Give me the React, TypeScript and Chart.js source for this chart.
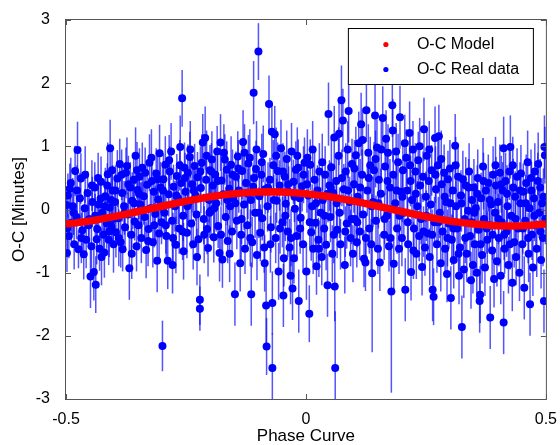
import React, { useEffect, useRef } from 'react';
import { Chart, registerables } from 'chart.js';

Chart.register(...registerables);

const FONT = '"Liberation Sans", Arial, Helvetica, sans-serif';

// Model curve
const modelPhase = [
  -0.5, -0.475, -0.45, -0.425, -0.4, -0.375, -0.35, -0.325, -0.3, -0.275, -0.25, -0.225, -0.2, -0.175,
  -0.15, -0.125, -0.1, -0.075, -0.05, -0.025, 0, 0.025, 0.05, 0.075, 0.1, 0.125, 0.15, 0.175, 0.2,
  0.225, 0.25, 0.275, 0.3, 0.325, 0.35, 0.375, 0.4, 0.425, 0.45, 0.475, 0.5,
];
const modelOC = [
  -0.231, -0.208, -0.181, -0.149, -0.113, -0.073, -0.032, 0.01, 0.052, 0.093, 0.133, 0.169, 0.201, 0.228,
  0.251, 0.267, 0.277, 0.28, 0.277, 0.267, 0.251, 0.228, 0.201, 0.169, 0.133, 0.093, 0.052, 0.01, -0.032,
  -0.073, -0.113, -0.149, -0.181, -0.208, -0.231, -0.247, -0.257, -0.26, -0.257, -0.247, -0.231,
];

// Observed O-C points
const phase = [
  -0.499, -0.498, -0.496, -0.494, -0.492, -0.489, -0.486, -0.483, -0.481, -0.478, -0.476, -0.474, -0.471, -0.469, -0.466, -0.463, -0.461, -0.458, -0.455, -0.452, -0.449, -0.447, -0.445, -0.442,
  -0.44, -0.438, -0.436, -0.435, -0.432, -0.43, -0.428, -0.427, -0.425, -0.422, -0.42, -0.418, -0.415, -0.413, -0.411, -0.409, -0.408, -0.405, -0.404, -0.403, -0.401,
  -0.398, -0.396, -0.393, -0.391, -0.388, -0.386, -0.383, -0.382, -0.379, -0.377, -0.375, -0.373, -0.371, -0.368, -0.366, -0.364, -0.362, -0.359, -0.357, -0.355, -0.353, -0.351,
  -0.349, -0.347, -0.345, -0.343, -0.341, -0.338, -0.336, -0.333, -0.331, -0.328, -0.326, -0.324, -0.321, -0.319, -0.317, -0.314, -0.312, -0.31, -0.308, -0.306, -0.305, -0.303, -0.301,
  -0.299, -0.297, -0.295, -0.293, -0.291, -0.288, -0.286, -0.284, -0.281, -0.279, -0.278, -0.276, -0.273, -0.271, -0.269, -0.266, -0.264, -0.262, -0.26, -0.258, -0.256, -0.255, -0.253, -0.251,
  -0.248, -0.246, -0.244, -0.242, -0.239, -0.237, -0.235, -0.232, -0.23, -0.228, -0.226, -0.224, -0.221, -0.221, -0.219, -0.217, -0.215, -0.213, -0.21, -0.208, -0.206, -0.204, -0.202, -0.2,
  -0.198, -0.196, -0.194, -0.192, -0.189, -0.187, -0.185, -0.183, -0.18, -0.178, -0.176, -0.174, -0.172, -0.169, -0.167, -0.165, -0.163, -0.16, -0.158, -0.156, -0.154, -0.152,
  -0.148, -0.146, -0.144, -0.142, -0.14, -0.137, -0.135, -0.133, -0.131, -0.129, -0.127, -0.125, -0.122, -0.12, -0.117, -0.115, -0.114, -0.112, -0.11, -0.109, -0.106, -0.104, -0.102,
  -0.099, -0.097, -0.095, -0.093, -0.091, -0.089, -0.087, -0.085, -0.083, -0.082, -0.08, -0.077, -0.075, -0.073, -0.071, -0.07, -0.07, -0.068, -0.065, -0.063, -0.061, -0.059, -0.057, -0.055, -0.052,
  -0.049, -0.047, -0.046, -0.044, -0.042, -0.04, -0.038, -0.036, -0.034, -0.032, -0.03, -0.028, -0.026, -0.025, -0.023, -0.021, -0.019, -0.016, -0.015, -0.013, -0.011, -0.008, -0.006, -0.003,
  0.001, 0.003, 0.005, 0.007, 0.009, 0.011, 0.013, 0.015, 0.018, 0.02, 0.022, 0.024, 0.026, 0.028, 0.031, 0.033, 0.035, 0.038, 0.04, 0.042, 0.045, 0.047, 0.049,
  0.051, 0.053, 0.055, 0.057, 0.059, 0.06, 0.061, 0.063, 0.065, 0.068, 0.07, 0.072, 0.074, 0.077, 0.079, 0.081, 0.083, 0.085, 0.087, 0.089, 0.091, 0.093, 0.096, 0.098,
  0.1, 0.102, 0.104, 0.106, 0.108, 0.11, 0.112, 0.115, 0.117, 0.119, 0.121, 0.124, 0.126, 0.128, 0.13, 0.132, 0.134, 0.136, 0.138, 0.14, 0.142, 0.144, 0.146, 0.148,
  0.15, 0.152, 0.154, 0.156, 0.16, 0.163, 0.165, 0.167, 0.169, 0.171, 0.173, 0.175, 0.178, 0.18, 0.182, 0.183, 0.186, 0.188, 0.19, 0.192, 0.194, 0.196, 0.198,
  0.2, 0.202, 0.204, 0.207, 0.209, 0.211, 0.213, 0.216, 0.218, 0.219, 0.221, 0.223, 0.225, 0.228, 0.23, 0.232, 0.234, 0.236, 0.238, 0.24, 0.242, 0.244, 0.246, 0.248,
  0.25, 0.252, 0.254, 0.256, 0.258, 0.26, 0.262, 0.264, 0.266, 0.268, 0.269, 0.271, 0.273, 0.275, 0.277, 0.279, 0.281, 0.283, 0.285, 0.288, 0.29, 0.292, 0.294, 0.296, 0.298,
  0.3, 0.302, 0.304, 0.306, 0.308, 0.311, 0.313, 0.315, 0.317, 0.319, 0.321, 0.323, 0.325, 0.327, 0.329, 0.331, 0.333, 0.335, 0.338, 0.34, 0.342, 0.344, 0.346, 0.348,
  0.35, 0.352, 0.354, 0.356, 0.358, 0.36, 0.362, 0.363, 0.365, 0.367, 0.369, 0.371, 0.373, 0.375, 0.378, 0.38, 0.382, 0.384, 0.386, 0.388, 0.39, 0.392, 0.394, 0.396, 0.398,
  0.4, 0.402, 0.404, 0.406, 0.408, 0.41, 0.412, 0.412, 0.414, 0.416, 0.418, 0.42, 0.422, 0.424, 0.426, 0.428, 0.43, 0.432, 0.434, 0.436, 0.438, 0.44, 0.442, 0.445, 0.447, 0.448,
  0.451, 0.453, 0.455, 0.457, 0.459, 0.462, 0.464, 0.466, 0.467, 0.469, 0.471, 0.473, 0.475, 0.477, 0.479, 0.481, 0.484, 0.486, 0.488, 0.49, 0.492, 0.494, 0.496, 0.497, 0.498, 0.499,
  -0.497, -0.49, -0.484, -0.477, -0.468, -0.46, -0.453, -0.446,
  -0.439, -0.433, -0.426, -0.419, -0.414, -0.41, -0.406, -0.402,
  -0.397, -0.39, -0.384, -0.378, -0.37, -0.363, -0.358, -0.352,
  -0.348, -0.342, -0.335, -0.329, -0.322, -0.316, -0.309, -0.302,
  -0.298, -0.292, -0.285, -0.277, -0.27, -0.263, -0.257, -0.252,
  -0.247, -0.241, -0.234, -0.227, -0.22, -0.212, -0.207, -0.201,
  -0.197, -0.191, -0.184, -0.177, -0.171, -0.164, -0.159, -0.153,
  -0.147, -0.141, -0.134, -0.128, -0.121, -0.116, -0.108, -0.103,
  -0.098, -0.092, -0.086, -0.079, -0.074, -0.067, -0.062, -0.054,
  -0.048, -0.043, -0.037, -0.031, -0.024, -0.018, -0.012, -0.005,
  0.002, 0.008, 0.014, 0.021, 0.027, 0.034, 0.039, 0.046,
  0.052, 0.058, 0.064, 0.069, 0.075, 0.082, 0.088, 0.095,
  0.101, 0.107, 0.113, 0.118, 0.125, 0.131, 0.137, 0.145,
  0.151, 0.157, 0.164, 0.17, 0.176, 0.181, 0.189, 0.195,
  0.201, 0.206, 0.212, 0.217, 0.224, 0.229, 0.237, 0.245,
  0.251, 0.257, 0.263, 0.27, 0.276, 0.282, 0.289, 0.295,
  0.301, 0.307, 0.312, 0.318, 0.324, 0.332, 0.339, 0.345,
  0.351, 0.357, 0.364, 0.37, 0.377, 0.383, 0.389, 0.395,
  0.401, 0.407, 0.413, 0.419, 0.425, 0.431, 0.437, 0.446,
  0.452, 0.458, 0.463, 0.47, 0.476, 0.483, 0.489, 0.495,
];

const oc = [
  0.07, -0.69, 0.22, -0.42, 0.33, -0.21, 0.05, -0.55, 0.61, -0.12, 0.94, -0.63, 0.18, 0.49, -0.33, -0.71, 0.02, -0.48, 0.26, -0.15, -1.06, -0.58, 0.12, -0.99,
  0.35, -1.19, -0.47, -0.31, 0.08, -0.62, 0.17, 0.44, -0.05, -0.4, -0.68, 0.21, -0.22, 0.56, -0.48, 0.03, 0.97, -0.27, 0.62, 0.3, -0.55,
  0.12, -0.36, 0.49, -0.14, 0.72, -0.52, 0.26, -0.63, 0.05, -0.28, 0.58, 0.69, -0.08, -0.93, 0.35, -0.4, 0.14, 0.47, -0.19, 0.85, -0.58, 0.31,
  -0.25, 0.52, 0.08, -0.45, 0.66, 0.21, -0.12, -0.64, 0.39, -0.31, 0.74, 0.02, 0.45, -0.52, 0.28, -0.07, 0.57, -0.81, 0.16, -0.38, 0.89, 0.35, -0.2,
  -2.16, 0.48, -0.05, 0.71, -0.42, -0.81, 0.24, 0.6, 0.92, -0.18, -0.88, 0.36, 0.05, -0.56, 0.53, 0.17, -0.3, 0.99, 0.42, 1.76, -0.1, -0.66, 0.66, 0.28,
  -0.37, 0.58, 0.12, 0.83, -0.22, 0.4, -0.55, 0.69, 0.22, -0.08, 0.51, -0.47, -1.43, -1.57, 0.34, 0.74, 1.06, -0.15, 1.13, 0.47, -0.31, -0.61, 0.15, 0.62,
  -0.02, 0.79, 0.38, -0.44, 0.55, 0.1, 0.92, -0.26, -0.69, 1.06, 0.46, -0.79, 0.24, 0.79, -0.12, 0.63, -0.5, 0.33, 0.05, 0.71, -0.35, 0.18,
  -1.34, 0.52, -0.18, 0.84, 0.3, -0.85, -0.4, 0.61, 1.07, 0.08, -0.62, 0.42, -0.25, 0.73, 0.82, 0.15, -1.34, -0.52, 0.36, 1.85, -0.05, 0.64, -0.72,
  2.5, 0.21, -0.37, 0.55, -0.14, 0.88, -0.6, 0.32, -1.52, -2.17, 0.05, 1.67, 0.47, -0.28, 1.23, -1.48, -2.51, 0.7, 1.19, -0.45, 0.14, 0.61, -0.98, 0.38, 0.97,
  -0.2, -1.36, -0.77, 0.52, 0.09, 0.8, -0.35, 0.28, -0.6, -1.05, 0.92, -1.25, 0.44, -0.77, 0.01, 0.63, -0.42, 0.66, -1.45, 0.18, -0.13, 0.37, -0.55, 0.74,
  -0.98, 0.82, 0.22, -1.65, 0.71, -0.36, 0.05, -0.62, 0.47, -0.21, -0.9, 0.3, -0.48, 0.6, -0.05, -0.75, 0.15, -0.3, 0.55, -0.56, -1.2, 1.51, 0.38,
  -0.12, 0.67, -0.7, 0.26, 1.14, -1.22, -2.51, 0.45, -0.32, 0.85, -0.05, -0.55, 1.73, 1.41, 0.32, -0.88, 0.6, -0.22, 0.95, 1.56, 0.12, -0.45, 0.72, -0.7,
  0.4, -0.15, 0.86, -0.52, 0.2, 1.05, -0.35, 1.35, 0.55, -0.08, -0.78, -0.84, 1.57, 0.3, 0.9, -0.3, 0.7, -0.55, -1.01, 0.12, 0.62, 1.49, -0.18, 0.98,
  -0.62, 0.47, -0.84, 0.25, 1.45, -0.4, 0.68, 1.12, -0.1, 0.9, -0.58, 0.35, -1.3, 1.65, 0.55, -0.86, 0.1, 0.92, -0.3, 0.75, -0.62, 1.46, 0.28,
  -0.45, 0.62, -0.05, -1.27, 0.82, 0.3, -0.55, 1.21, 0.45, -0.99, 0.15, 0.95, -0.3, 0.6, -0.7, 0.05, 0.78, -0.42, 0.38, -0.15, -0.91, 0.52, 1.27, -0.6,
  0.2, 0.85, -0.38, 0.45, -0.75, 0.08, 0.62, -1.27, -1.38, -0.2, 1.13, 0.32, -0.55, 0.7, 1.16, -0.05, -0.85, 0.4, -0.35, 0.58, -0.62, 0.12, -1.02, 0.48, -0.22,
  0.65, -1.4, -0.48, 0.3, -0.8, 1.01, 0.05, -0.3, 0.52, -1.05, -0.6, 0.22, -1.86, 0.48, -0.95, -0.15, 0.38, -0.7, -0.02, 0.6, -0.42, -1.12, 0.15, -0.88,
  0.35, -0.55, 0.02, -1.0, 0.5, -0.32, -1.45, -1.35, 0.18, -0.72, 0.68, -0.15, -0.92, 0.3, -0.48, 0.42, -0.25, -1.71, 0.08, -0.65, 0.55, -1.1, -0.05, 0.38, -0.82,
  0.12, -0.45, 0.58, -1.05, -0.2, 0.3, 0.97, -1.79, -0.62, 0.45, -0.35, 0.05, -0.88, 0.6, 0.99, -0.1, -1.16, 0.35, -0.52, 0.2, -0.75, 0.52, -0.3, -1.0, 0.1, 0.57,
  -0.55, 0.28, -1.24, -0.18, 0.42, 0.75, -0.7, 0.02, -1.5, 0.5, -0.4, -0.92, 0.18, 0.6, -0.25, -0.62, 0.72, -0.05, 0.35, -0.8, 0.1, -0.45, -1.45, 0.99, 0.86, -0.15,
  -0.3, 0.42, -0.05, 0.3, -0.45, 0.55, -0.25, 0.38,
  -0.1, 0.5, -0.75, 0.05, 0.38, -0.35, 0.15, -0.15,
  0.3, -0.45, 0.55, -0.05, 0.4, -0.7, 0.1, 0.62,
  0.25, -0.02, 0.58, -0.5, 0.82, -0.25, 0.48, 0.05,
  0.3, -0.25, 0.78, -0.45, 0.22, 0.7, -0.35, 0.5,
  0.05, 0.95, 0.3, -0.75, 0.6, -0.4, 0.85, -0.05,
  0.6, 0.02, 0.45, -0.4, 0.9, 0.15, -0.7, 0.55,
  0.1, 0.65, -0.15, 0.9, 0.25, -0.45, 0.5, 0.95,
  -0.05, 0.75, -0.85, 0.35, -0.55, 0.15, 0.85, -0.3,
  0.6, -0.1, 0.4, -0.45, 0.2, 0.85, -0.3, 0.55,
  0.4, -0.2, 0.95, 0.1, -0.62, 0.75, -0.1, 0.25,
  0.35, -0.4, 0.1, 1.2, 0.5, -0.35, 0.3, -0.15,
  0.65, -0.2, 0.35, 1.1, -0.45, 0.5, 0.05, 0.8,
  0.1, 0.95, -0.15, 0.45, -0.45, 1.25, 0.3, -0.1,
  0.2, 1.05, -0.2, 0.7, -0.65, 0.25, 1.0, -0.35,
  -0.1, 0.95, -0.4, 0.55, -0.2, 0.8, 0.2, -0.45,
  0.1, -0.3, 0.7, -0.7, 0.1, -0.45, 0.35, -0.2,
  -0.05, 0.25, -0.55, 0.45, -0.3, 0.15, -0.4, 0.7,
  -0.15, 0.4, -0.4, 0.25, -0.55, 0.7, -0.15, 0.3,
  -0.3, 0.1, -0.45, 0.3, -0.1, 0.45, -0.35, 0.2,
];

const ocErr = [
  0.3, 0.3, 0.35, 0.35, 0.4, 0.3, 0.45, 0.4, 0.4, 0.35, 0.45, 0.3, 0.4, 0.4, 0.35, 0.4, 0.3, 0.45, 0.35, 0.4, 0.5, 0.35, 0.4, 0.45,
  0.4, 0.45, 0.4, 0.35, 0.45, 0.35, 0.3, 0.4, 0.3, 0.35, 0.4, 0.45, 0.4, 0.5, 0.4, 0.35, 0.45, 0.3, 0.35, 0.4, 0.45,
  0.35, 0.4, 0.45, 0.3, 0.4, 0.4, 0.45, 0.35, 0.4, 0.35, 0.4, 0.45, 0.35, 0.5, 0.4, 0.35, 0.45, 0.4, 0.3, 0.45, 0.4, 0.35,
  0.4, 0.45, 0.35, 0.4, 0.4, 0.45, 0.35, 0.45, 0.4, 0.35, 0.45, 0.3, 0.4, 0.4, 0.35, 0.45, 0.4, 0.5, 0.35, 0.4, 0.45, 0.4, 0.35,
  0.4, 0.4, 0.35, 0.45, 0.4, 0.45, 0.35, 0.4, 0.45, 0.4, 0.45, 0.35, 0.4, 0.45, 0.35, 0.4, 0.4, 0.5, 0.35, 0.45, 0.4, 0.45, 0.4, 0.35,
  0.4, 0.45, 0.35, 0.4, 0.4, 0.45, 0.4, 0.35, 0.4, 0.45, 0.4, 0.35, 0.4, 0.35, 0.4, 0.45, 0.45, 0.4, 0.5, 0.35, 0.4, 0.45, 0.35, 0.4,
  0.4, 0.45, 0.35, 0.4, 0.4, 0.45, 0.4, 0.35, 0.45, 0.45, 0.4, 0.45, 0.35, 0.4, 0.4, 0.45, 0.35, 0.4, 0.4, 0.45, 0.4, 0.35,
  0.5, 0.4, 0.45, 0.4, 0.35, 0.45, 0.4, 0.45, 0.5, 0.4, 0.4, 0.35, 0.4, 0.45, 0.45, 0.4, 0.5, 0.4, 0.35, 0.5, 0.4, 0.45, 0.4,
  0.45, 0.4, 0.45, 0.4, 0.35, 0.45, 0.4, 0.4, 0.65, 0.45, 0.4, 0.45, 0.35, 0.4, 0.45, 0.5, 0.55, 0.4, 0.45, 0.4, 0.35, 0.45, 0.45, 0.4, 0.45,
  0.4, 0.5, 0.45, 0.4, 0.35, 0.45, 0.4, 0.4, 0.45, 0.45, 0.45, 0.5, 0.35, 0.4, 0.4, 0.45, 0.4, 0.45, 0.5, 0.4, 0.35, 0.4, 0.45, 0.4,
  0.45, 0.45, 0.4, 0.45, 0.4, 0.45, 0.35, 0.4, 0.45, 0.4, 0.45, 0.4, 0.35, 0.45, 0.4, 0.45, 0.4, 0.4, 0.45, 0.4, 0.5, 0.5, 0.4,
  0.4, 0.45, 0.45, 0.4, 0.5, 0.55, 0.9, 0.4, 0.45, 0.45, 0.4, 0.4, 0.55, 0.5, 0.4, 0.45, 0.45, 0.4, 0.45, 0.5, 0.4, 0.45, 0.4, 0.45,
  0.45, 0.4, 0.45, 0.4, 0.4, 0.5, 0.45, 0.5, 0.4, 0.4, 0.45, 0.45, 0.5, 0.4, 0.45, 0.4, 0.45, 0.4, 1.25, 0.4, 0.45, 0.5, 0.4, 0.45,
  0.4, 0.45, 0.45, 0.4, 0.5, 0.4, 0.45, 0.45, 0.4, 0.45, 0.4, 0.45, 1.6, 0.5, 0.4, 0.45, 0.4, 0.45, 0.4, 0.45, 0.4, 0.5, 0.4,
  0.45, 0.4, 0.4, 0.5, 0.45, 0.4, 0.45, 0.5, 0.4, 0.45, 0.4, 0.45, 0.4, 0.45, 0.4, 0.4, 0.45, 0.4, 0.45, 0.4, 0.45, 0.4, 0.5, 0.45,
  0.4, 0.45, 0.4, 0.45, 0.45, 0.4, 0.4, 0.5, 0.45, 0.4, 0.5, 0.4, 0.45, 0.45, 0.5, 0.4, 0.45, 0.4, 0.45, 0.45, 0.4, 0.4, 0.45, 0.45, 0.4,
  0.45, 0.5, 0.4, 0.45, 0.45, 0.5, 0.4, 0.4, 0.45, 0.45, 0.4, 0.4, 0.5, 0.45, 0.45, 0.4, 0.45, 0.45, 0.4, 0.45, 0.4, 0.45, 0.4, 0.45,
  0.45, 0.4, 0.4, 0.45, 0.45, 0.4, 0.5, 0.45, 0.4, 0.45, 0.45, 0.4, 0.45, 0.4, 0.45, 0.45, 0.4, 0.5, 0.4, 0.45, 0.45, 0.45, 0.4, 0.45, 0.4,
  0.4, 0.45, 0.45, 0.45, 0.4, 0.45, 0.5, 0.5, 0.4, 0.45, 0.4, 0.4, 0.45, 0.45, 0.5, 0.4, 0.45, 0.45, 0.4, 0.4, 0.45, 0.45, 0.4, 0.45, 0.4, 0.45,
  0.4, 0.45, 0.5, 0.4, 0.45, 0.5, 0.45, 0.4, 0.5, 0.45, 0.4, 0.45, 0.4, 0.45, 0.4, 0.45, 0.5, 0.4, 0.45, 0.45, 0.4, 0.45, 0.5, 0.5, 0.45, 0.4,
  0.35, 0.4, 0.35, 0.4, 0.4, 0.45, 0.35, 0.4,
  0.35, 0.4, 0.45, 0.4, 0.35, 0.4, 0.45, 0.35,
  0.4, 0.45, 0.4, 0.35, 0.45, 0.4, 0.4, 0.45,
  0.4, 0.45, 0.4, 0.4, 0.45, 0.35, 0.4, 0.45,
  0.4, 0.45, 0.4, 0.4, 0.45, 0.4, 0.45, 0.4,
  0.4, 0.45, 0.4, 0.45, 0.4, 0.45, 0.4, 0.4,
  0.45, 0.4, 0.4, 0.45, 0.45, 0.4, 0.45, 0.4,
  0.4, 0.45, 0.4, 0.45, 0.4, 0.45, 0.4, 0.45,
  0.4, 0.45, 0.45, 0.4, 0.45, 0.4, 0.45, 0.4,
  0.45, 0.4, 0.4, 0.45, 0.4, 0.45, 0.4, 0.45,
  0.45, 0.4, 0.45, 0.4, 0.45, 0.45, 0.4, 0.45,
  0.4, 0.45, 0.4, 0.5, 0.45, 0.4, 0.45, 0.4,
  0.45, 0.4, 0.45, 0.5, 0.4, 0.45, 0.4, 0.45,
  0.4, 0.45, 0.4, 0.45, 0.4, 0.5, 0.45, 0.4,
  0.4, 0.45, 0.4, 0.45, 0.45, 0.4, 0.45, 0.4,
  0.4, 0.45, 0.4, 0.45, 0.4, 0.45, 0.4, 0.45,
  0.4, 0.45, 0.45, 0.4, 0.45, 0.4, 0.45, 0.4,
  0.4, 0.45, 0.4, 0.45, 0.4, 0.45, 0.4, 0.45,
  0.4, 0.45, 0.4, 0.45, 0.4, 0.45, 0.4, 0.45,
  0.4, 0.45, 0.4, 0.45, 0.4, 0.45, 0.4, 0.45,
];

const xTickStep = 0.5;
const yTickStep = 1;

const fmt = (v: number | string) => String(Math.round(Number(v) * 100) / 100);

const errorBarsPlugin = {
  id: 'errorBars',
  beforeDatasetsDraw(chart: any) {
    const { ctx, chartArea: a, scales } = chart;
    const xs = scales.x;
    const ys = scales.y;
    const pts = chart.data.datasets[1].data as any[];
    ctx.save();
    ctx.beginPath();
    ctx.rect(a.left, a.top, a.right - a.left, a.bottom - a.top);
    ctx.clip();
    ctx.strokeStyle = 'rgba(10,10,255,0.7)';
    ctx.lineWidth = 1.5;
    for (const p of pts) {
      const px = xs.getPixelForValue(p.x);
      ctx.beginPath();
      ctx.moveTo(px, ys.getPixelForValue(p.y + p.err));
      ctx.lineTo(px, ys.getPixelForValue(p.y - p.err));
      ctx.stroke();
    }
    ctx.restore();
  },
};

const framePlugin = {
  id: 'frameTicks',
  afterDraw(chart: any) {
    const { ctx, chartArea: a, scales } = chart;
    ctx.save();
    ctx.strokeStyle = '#555555';
    ctx.lineWidth = 1;
    ctx.strokeRect(a.left - 0.5, a.top - 0.5, a.right - a.left + 1, a.bottom - a.top + 1);
    ctx.beginPath();
    const tl = 5;
    for (const t of scales.x.ticks) {
      const px = Math.round(scales.x.getPixelForValue(t.value)) + 0.5;
      ctx.moveTo(px, a.bottom);
      ctx.lineTo(px, a.bottom - tl);
      ctx.moveTo(px, a.top);
      ctx.lineTo(px, a.top + tl);
    }
    for (const t of scales.y.ticks) {
      const py = Math.round(scales.y.getPixelForValue(t.value)) + 0.5;
      ctx.moveTo(a.left, py);
      ctx.lineTo(a.left + tl, py);
      ctx.moveTo(a.right, py);
      ctx.lineTo(a.right - tl, py);
    }
    ctx.stroke();
    ctx.restore();
  },
};

const boxLegendPlugin = {
  id: 'boxLegend',
  afterDraw(chart: any) {
    const { ctx, chartArea: a } = chart;
    const w = 185;
    const h = 56;
    const right = a.right - 13;
    const top = a.top + 8;
    const left = right - w;
    ctx.save();
    ctx.fillStyle = '#ffffff';
    ctx.fillRect(left, top, w, h);
    ctx.strokeStyle = '#000000';
    ctx.lineWidth = 1;
    ctx.strokeRect(left + 0.5, top + 0.5, w, h);
    ctx.font = `16px ${FONT}`;
    ctx.textBaseline = 'middle';
    ctx.textAlign = 'left';
    chart.data.datasets.forEach((ds: any, i: number) => {
      const cy = top + 16.5 + i * 25;
      ctx.fillStyle = ds.backgroundColor;
      ctx.beginPath();
      ctx.arc(left + 38, cy, 2.6, 0, Math.PI * 2);
      ctx.fill();
      ctx.fillStyle = '#000000';
      ctx.fillText(ds.label, left + 69, cy + 0.5);
    });
    ctx.restore();
  },
};

export default function App() {
  const ref = useRef<HTMLCanvasElement>(null);

  useEffect(() => {
    const canvas = ref.current;
    if (!canvas) return;
    const n = Math.min(phase.length, oc.length, ocErr.length);
    const realData: { x: number; y: number; err: number }[] = [];
    for (let i = 0; i < n; i++) realData.push({ x: phase[i], y: oc[i], err: ocErr[i] });
    const modelData = modelPhase.map((x, i) => ({ x, y: modelOC[i] }));

    const chart = new Chart(canvas, {
      type: 'scatter',
      data: {
        datasets: [
          {
            label: 'O-C Model',
            data: modelData,
            showLine: true,
            borderColor: '#ff0000',
            backgroundColor: '#ff0000',
            borderWidth: 7.5,
            pointRadius: 0,
            tension: 0,
            order: 0,
          } as any,
          {
            label: 'O-C Real data',
            data: realData,
            backgroundColor: '#0000ff',
            borderColor: '#0000ff',
            borderWidth: 0,
            pointRadius: 4,
            order: 1,
          } as any,
        ],
      },
      options: {
        animation: false,
        responsive: false,
        events: [],
        layout: { padding: { left: 0, top: 20, right: 13, bottom: 0 } },
        plugins: {
          legend: { display: false },
          tooltip: { enabled: false },
        },
        scales: {
          x: {
            type: 'linear',
            min: -0.5,
            max: 0.5,
            grid: { display: false },
            border: { display: false },
            ticks: {
              stepSize: xTickStep,
              color: '#000',
              padding: 3,
              maxRotation: 0,
              font: { family: FONT, size: 16 },
              callback: (v: any) => fmt(v),
            },
            title: {
              display: true,
              text: 'Phase Curve',
              color: '#000',
              font: { family: FONT, size: 17 },
              padding: { top: 0, bottom: -2 },
            },
            afterFit: (s: any) => {
              s.height = 46;
            },
          },
          y: {
            type: 'linear',
            min: -3,
            max: 3,
            grid: { display: false },
            border: { display: false },
            ticks: {
              stepSize: yTickStep,
              color: '#000',
              padding: 8,
              font: { family: FONT, size: 16 },
              callback: (v: any) => fmt(v),
            },
            title: {
              display: true,
              text: 'O-C [Minutes]',
              color: '#000',
              font: { family: FONT, size: 17 },
              padding: { top: 9, bottom: 0 },
            },
            afterFit: (s: any) => {
              s.width = 66;
            },
          },
        },
      },
      plugins: [errorBarsPlugin, framePlugin, boxLegendPlugin],
    });
    return () => chart.destroy();
  }, []);

  return (
    <div style={{ position: 'absolute', left: 0, top: 0, width: 560, height: 445, background: '#fff' }}>
      <canvas ref={ref} width={560} height={445} style={{ display: 'block' }} />
    </div>
  );
}
